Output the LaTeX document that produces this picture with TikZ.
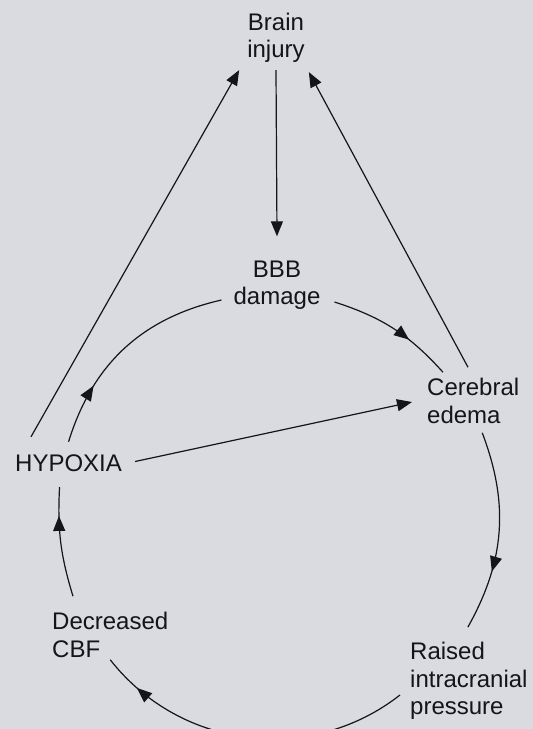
\documentclass[tikz,border=0pt]{standalone}
\usepackage{fontspec}
\setmainfont{Liberation Sans}
\usepackage{xcolor}
\definecolor{mypaper}{rgb}{0.85,0.86,0.88}
\definecolor{myink}{rgb}{0.08,0.08,0.1}
\usetikzlibrary{positioning,calc,arrows.meta,decorations.markings}
\tikzset{
    label/.style={inner sep=0pt,text=myink,font=\fontsize{24}{27.5}\selectfont},
    link/.style={draw=myink,line width=1.2pt},
    tip/.style={link,-{Triangle[length=15pt,width=12pt]}},
    midarrow/.style={link,postaction={decorate},decoration={markings,
        mark=at position #1 with {\arrow[myink]{Triangle[length=15pt,width=12pt]}}}}
}
\begin{document}
\begin{tikzpicture}[x=1pt,y=-1pt]
        \fill[mypaper] (0,0) rectangle (533,729);
        \useasboundingbox (0,0) rectangle (533,729);
        \clip (0,0) rectangle (533,729);
        \node[label,align=center] (inj) at (276,38) {Brain\\injury};
        \node[label,align=center] (bbb) at (277,285) {BBB\\damage};
        \node[label,align=left,anchor=west] (ced) at (427,401) {Cerebral\\edema};
        \node[label,anchor=west] (hyp) at (15,463.5) {HYPOXIA};
        \node[label,align=left,anchor=west] (cbf) at (52,635) {Decreased\\CBF};
        \node[label,align=left,anchor=west] (rip) at (410,681) {Raised\\intracranial\\pressure};
        \draw[tip] ([yshift=-7pt]inj.south) -- ([yshift=24pt]bbb.north);
        \draw[tip] ([shift={(16pt,18pt)}]hyp.north west) -- ([shift={(-8pt,-7pt)}]inj.south west);
        \draw[tip] ([shift={(41pt,11pt)}]ced.north west) -- ([shift={(4pt,-9pt)}]inj.south east);
        \draw[tip] ([shift={(13pt,2pt)}]hyp.east) -- ([shift={(-15pt,-1pt)}]ced.west);
        \draw[midarrow=0.28] ([yshift=13pt]hyp.north) to[bend left=30] ([shift={(-12pt,-15pt)}]bbb.west);
        \draw[midarrow=0.64] ([shift={(14pt,-17pt)}]bbb.east) to[bend left=15] ([shift={(16pt,6pt)}]ced.north west);
        \draw[midarrow=0.7] ([shift={(9pt,-9pt)}]ced.south) to[bend left=25] ([shift={(-1pt,15pt)}]rip.north);
        \draw[midarrow=0.88] ([shift={(-10pt,-14pt)}]rip.west) to[bend left=45] ([yshift=-2pt]cbf.south);
        \draw[midarrow=0.74] ([shift={(21pt,16pt)}]cbf.north west) to[bend left=10] ([shift={(-9pt,-15pt)}]hyp.south);
    \end{tikzpicture}
\end{document}
